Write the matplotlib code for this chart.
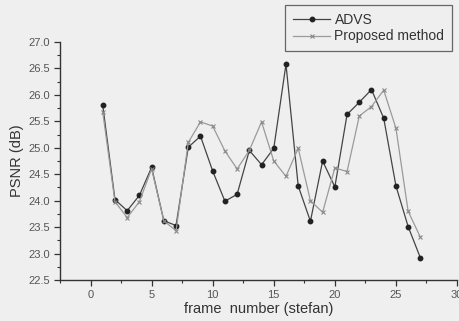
import matplotlib
matplotlib.use('Agg')
import matplotlib.pyplot as plt
from matplotlib.ticker import MultipleLocator

FRAMES = list(range(1, 28))
ADVS = [25.8, 24.02, 23.81, 24.1, 24.63, 23.62, 23.53, 25.01, 25.22, 24.56,
        23.99, 24.12, 24.95, 24.68, 24.99, 26.58, 24.28, 23.61, 24.75, 24.26,
        25.63, 25.86, 26.1, 25.56, 24.28, 23.51, 22.92]
PROPOSED = [25.67, 23.98, 23.68, 23.98, 24.6, 23.62, 23.43, 25.1, 25.49, 25.41,
            24.94, 24.6, 24.95, 25.49, 24.75, 24.46, 24.99, 24.0, 23.78, 24.62,
            24.55, 25.6, 25.78, 26.09, 25.37, 23.8, 23.31]

BG = '#efefef'

def main():
	plt.rcParams['font.family'] = ['Liberation Sans', 'DejaVu Sans']
	fig = plt.figure(figsize=(4.6, 3.21), dpi=100, facecolor=BG)
	ax = fig.add_axes([60/460, 1-280/321, (457-60)/460, (280-42)/321])
	ax.set_facecolor(BG)

	ax.plot(FRAMES, ADVS, color='#444444', lw=0.9, marker='o', ms=3.2,
		mfc='#222222', mec='#222222', label='ADVS')
	ax.plot(FRAMES, PROPOSED, color='#9a9a9a', lw=0.9, marker='x', ms=3.5,
		mew=0.8, mec='#888888', label='Proposed method')

	ax.set_xlim(-2.5, 30)
	ax.set_ylim(22.5, 27.0)
	ax.xaxis.set_major_locator(MultipleLocator(5))
	ax.xaxis.set_minor_locator(MultipleLocator(2.5))
	ax.yaxis.set_major_locator(MultipleLocator(0.5))
	ax.yaxis.set_minor_locator(MultipleLocator(0.25))
	ax.yaxis.set_major_formatter(plt.FormatStrFormatter('%.1f'))

	for s in ['top', 'right']:
		ax.spines[s].set_visible(False)
	for s in ['left', 'bottom']:
		ax.spines[s].set_color('#333333')
		ax.spines[s].set_linewidth(1.0)
	ax.tick_params(which='major', direction='out', length=4, width=0.9,
		colors='#333333', labelsize=8, labelcolor='#555555')
	ax.tick_params(which='minor', direction='out', length=2.5, width=0.8,
		colors='#333333')

	ax.set_xlabel('frame  number (stefan)', fontsize=10.5, color='#333333', labelpad=1)
	ax.set_ylabel('PSNR (dB)', fontsize=10.5, color='#333333', labelpad=3)

	leg = fig.legend(loc='upper right', bbox_to_anchor=(452/460, 1-5/321),
		fontsize=10, frameon=True, fancybox=False, handlelength=2.7,
		borderpad=0.55, labelspacing=0.2, handletextpad=0.3, borderaxespad=0)
	leg.get_frame().set_edgecolor('#444444')
	leg.get_frame().set_facecolor(BG)
	leg.get_frame().set_linewidth(0.9)
	for t in leg.get_texts():
		t.set_color('#333333')

	plt.savefig('out.png', dpi=100, facecolor=BG)


if __name__ == "__main__":
	main()
